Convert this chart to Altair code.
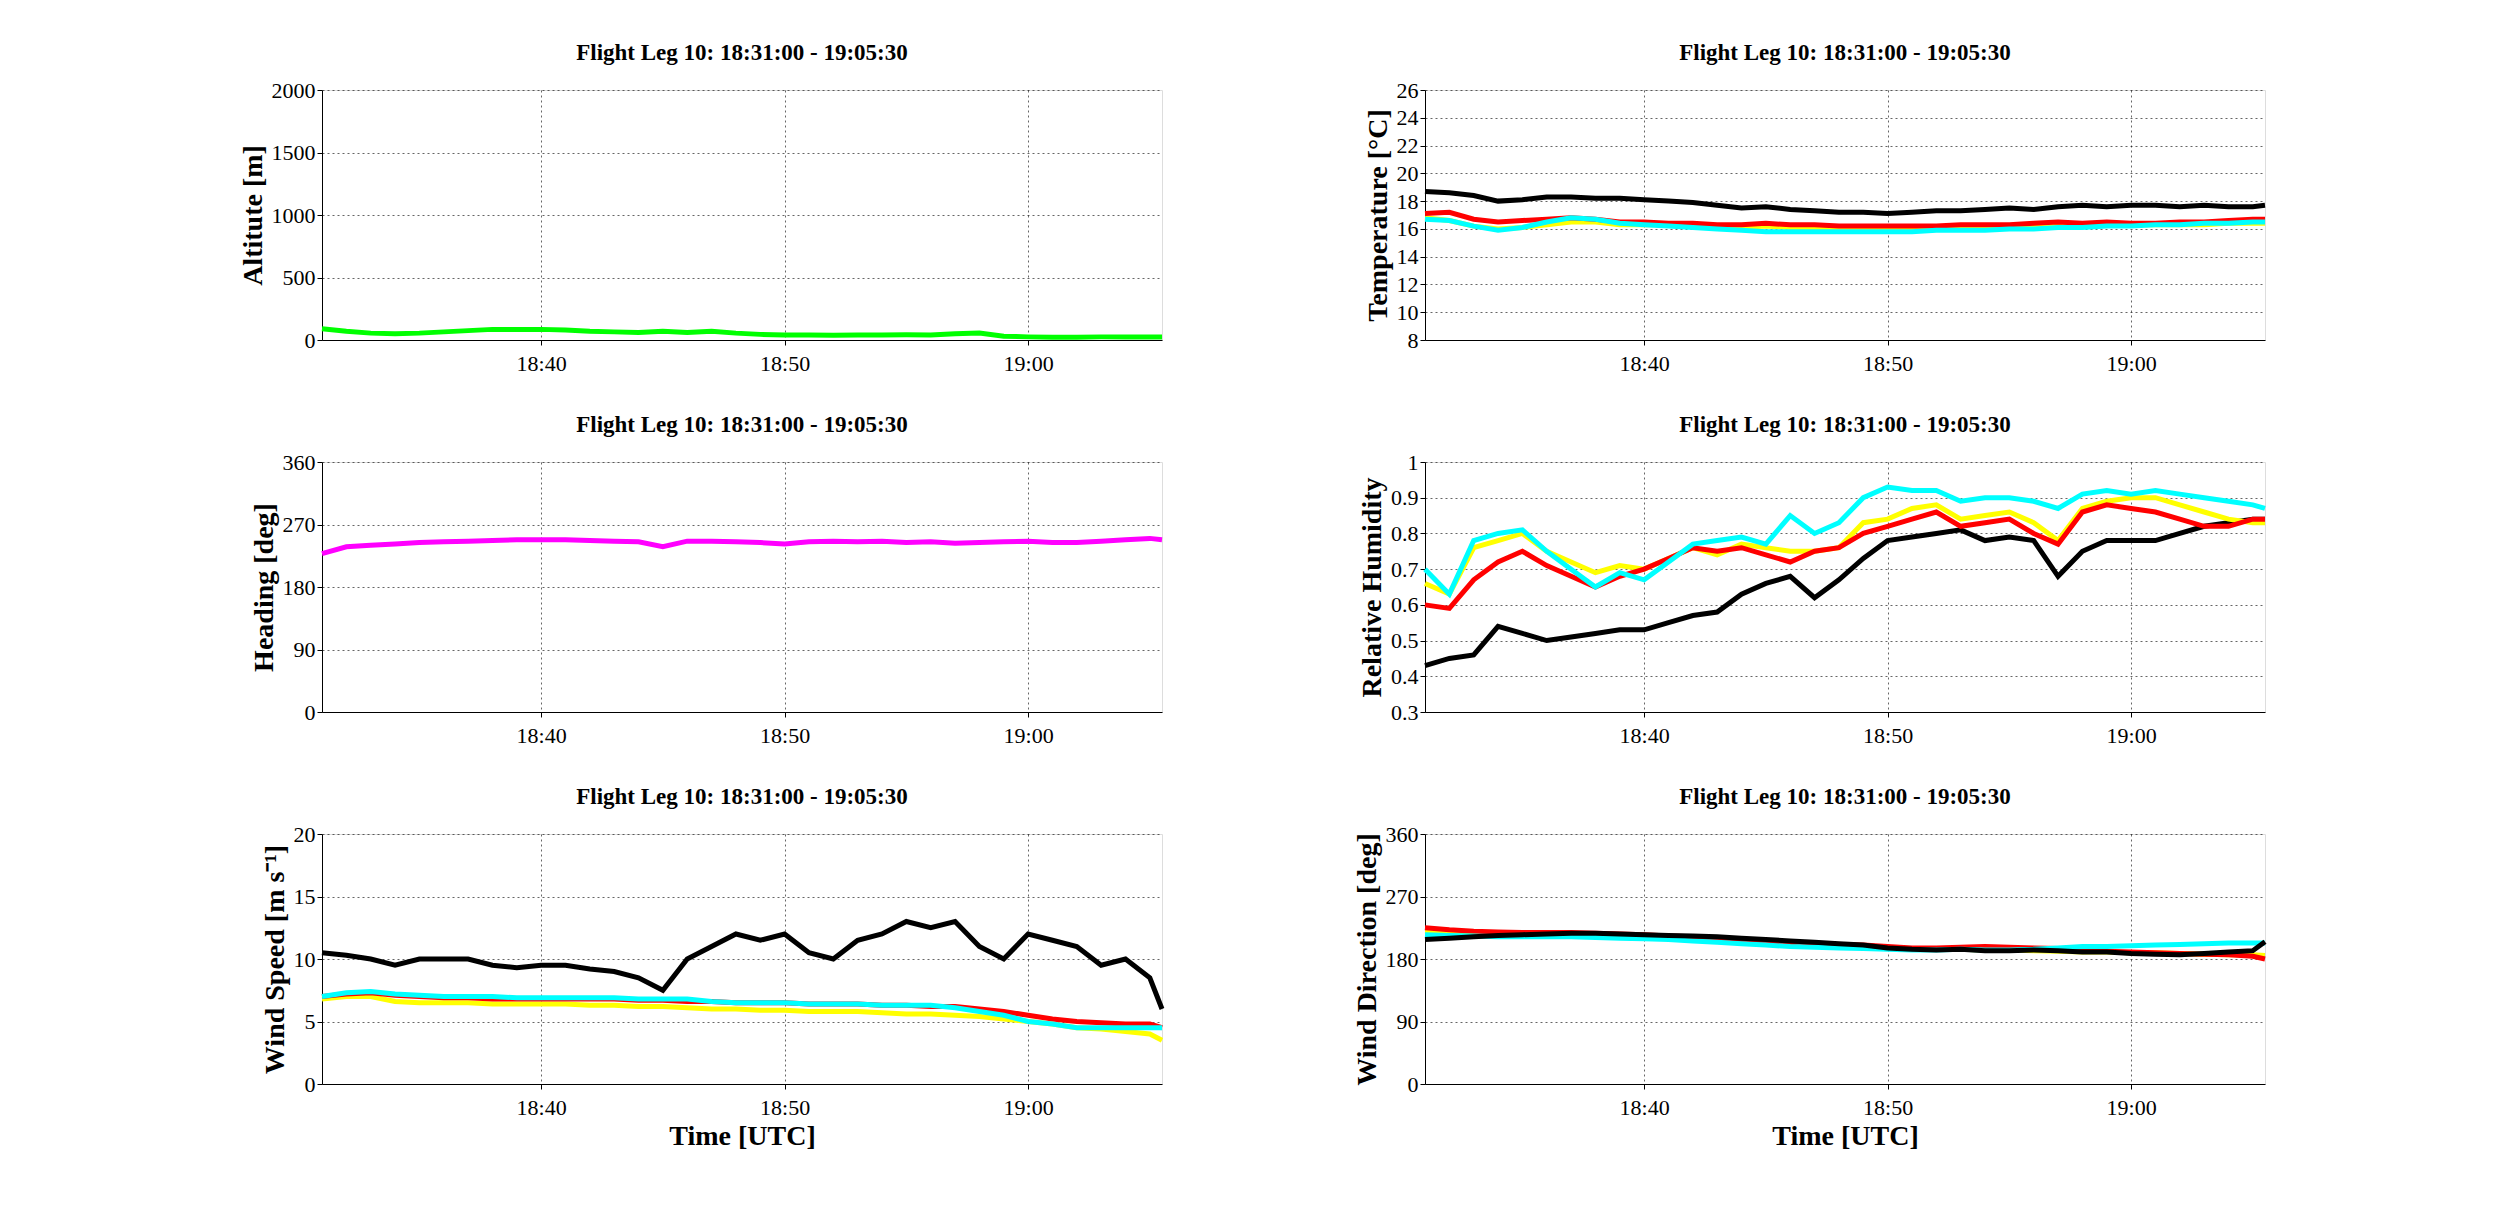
import altair as alt
import pandas as pd

# minutes after 18:00
minutes = list(range(31, 66)) + [65.5]

altitude = [90, 70, 55, 50, 55, 65, 75, 85, 85, 85, 80, 70, 65, 60, 70, 60, 70, 55, 45, 40,
            40, 38, 40, 40, 42, 40, 50, 55, 30, 25, 22, 22, 25, 25, 25, 25]
heading = [228, 238, 240, 242, 244, 245, 246, 247, 248, 248, 248, 247, 246, 245, 238, 246, 246, 245,
           244, 242, 245, 246, 245, 246, 244, 245, 243, 244, 245, 246, 244, 244, 246, 248, 250, 248]

temp_black = [18.7, 18.6, 18.4, 18.0, 18.1, 18.3, 18.3, 18.2, 18.2, 18.1, 18.0, 17.9, 17.7, 17.5, 17.6, 17.4,
              17.3, 17.2, 17.2, 17.1, 17.2, 17.3, 17.3, 17.4, 17.5, 17.4, 17.6, 17.7, 17.6, 17.7, 17.7, 17.6,
              17.7, 17.6, 17.6, 17.7]
temp_red = [17.1, 17.2, 16.7, 16.5, 16.6, 16.7, 16.8, 16.7, 16.5, 16.5, 16.4, 16.4, 16.3, 16.3, 16.4, 16.3,
            16.3, 16.2, 16.2, 16.2, 16.2, 16.2, 16.3, 16.3, 16.3, 16.4, 16.5, 16.4, 16.5, 16.4, 16.4, 16.5,
            16.5, 16.6, 16.7, 16.7]
temp_yellow = [16.8, 16.6, 16.2, 16.0, 16.1, 16.3, 16.5, 16.5, 16.3, 16.3, 16.3, 16.2, 16.2, 16.1, 16.2, 16.1,
               16.1, 16.0, 16.0, 16.0, 16.0, 16.1, 16.1, 16.1, 16.2, 16.2, 16.2, 16.2, 16.3, 16.3, 16.3, 16.3,
               16.3, 16.4, 16.4, 16.4]
temp_cyan = [16.7, 16.6, 16.2, 15.9, 16.1, 16.5, 16.8, 16.7, 16.4, 16.3, 16.2, 16.1, 16.0, 15.9, 15.8, 15.8,
             15.8, 15.8, 15.8, 15.8, 15.8, 15.9, 15.9, 15.9, 16.0, 16.0, 16.1, 16.1, 16.2, 16.2, 16.3, 16.3,
             16.4, 16.4, 16.5, 16.5]

rh_black = [0.43, 0.45, 0.46, 0.54, 0.52, 0.50, 0.51, 0.52, 0.53, 0.53, 0.55, 0.57, 0.58, 0.63, 0.66, 0.68,
            0.62, 0.67, 0.73, 0.78, 0.79, 0.80, 0.81, 0.78, 0.79, 0.78, 0.68, 0.75, 0.78, 0.78, 0.78, 0.80,
            0.82, 0.83, 0.84, 0.84]
rh_red = [0.60, 0.59, 0.67, 0.72, 0.75, 0.71, 0.68, 0.65, 0.68, 0.70, 0.73, 0.76, 0.75, 0.76, 0.74, 0.72,
          0.75, 0.76, 0.80, 0.82, 0.84, 0.86, 0.82, 0.83, 0.84, 0.80, 0.77, 0.86, 0.88, 0.87, 0.86, 0.84,
          0.82, 0.82, 0.84, 0.84]
rh_yellow = [0.66, 0.63, 0.76, 0.78, 0.80, 0.75, 0.72, 0.69, 0.71, 0.70, 0.73, 0.76, 0.74, 0.77, 0.76, 0.75,
             0.75, 0.76, 0.83, 0.84, 0.87, 0.88, 0.84, 0.85, 0.86, 0.83, 0.78, 0.87, 0.89, 0.90, 0.90, 0.88,
             0.86, 0.84, 0.83, 0.83]
rh_cyan = [0.70, 0.63, 0.78, 0.80, 0.81, 0.75, 0.70, 0.65, 0.69, 0.67, 0.72, 0.77, 0.78, 0.79, 0.77, 0.85,
           0.80, 0.83, 0.90, 0.93, 0.92, 0.92, 0.89, 0.90, 0.90, 0.89, 0.87, 0.91, 0.92, 0.91, 0.92, 0.91,
           0.90, 0.89, 0.88, 0.87]

ws_black = [10.5, 10.3, 10.0, 9.5, 10.0, 10.0, 10.0, 9.5, 9.3, 9.5, 9.5, 9.2, 9.0, 8.5, 7.5, 10.0,
            11.0, 12.0, 11.5, 12.0, 10.5, 10.0, 11.5, 12.0, 13.0, 12.5, 13.0, 11.0, 10.0, 12.0, 11.5, 11.0,
            9.5, 10.0, 8.5, 6.0]
ws_red = [7.0, 7.2, 7.3, 7.1, 7.0, 6.9, 6.9, 6.8, 6.8, 6.8, 6.8, 6.8, 6.8, 6.7, 6.7, 6.6,
          6.6, 6.5, 6.5, 6.5, 6.4, 6.4, 6.4, 6.3, 6.3, 6.2, 6.2, 6.0, 5.8, 5.5, 5.2, 5.0,
          4.9, 4.8, 4.8, 4.5]
ws_yellow = [6.8, 7.0, 7.0, 6.6, 6.5, 6.5, 6.5, 6.4, 6.4, 6.4, 6.4, 6.3, 6.3, 6.2, 6.2, 6.1,
             6.0, 6.0, 5.9, 5.9, 5.8, 5.8, 5.8, 5.7, 5.6, 5.6, 5.5, 5.4, 5.2, 5.0, 4.8, 4.5,
             4.4, 4.2, 4.0, 3.5]
ws_cyan = [7.0, 7.3, 7.4, 7.2, 7.1, 7.0, 7.0, 7.0, 6.9, 6.9, 6.9, 6.9, 6.9, 6.8, 6.8, 6.8,
           6.6, 6.5, 6.5, 6.5, 6.4, 6.4, 6.4, 6.3, 6.3, 6.3, 6.1, 5.8, 5.5, 5.0, 4.8, 4.5,
           4.5, 4.5, 4.5, 4.5]

wd_black = [208, 210, 212, 214, 215, 216, 217, 217, 216, 215, 214, 213, 212, 210, 208, 206,
            204, 202, 200, 196, 194, 193, 194, 192, 192, 193, 192, 190, 190, 188, 187, 186,
            188, 190, 192, 205]
wd_red = [225, 222, 220, 219, 218, 218, 218, 217, 216, 215, 213, 212, 210, 208, 206, 204,
          202, 201, 200, 198, 196, 196, 197, 198, 197, 196, 195, 193, 191, 190, 189, 188,
          187, 186, 184, 180]
wd_yellow = [220, 219, 218, 217, 216, 216, 216, 215, 214, 213, 212, 210, 208, 206, 205, 203,
             202, 200, 198, 196, 195, 194, 194, 193, 193, 192, 191, 190, 190, 189, 189, 188,
             187, 186, 186, 185]
wd_cyan = [215, 214, 213, 212, 212, 212, 212, 211, 210, 209, 208, 206, 204, 202, 200, 198,
           197, 196, 195, 194, 193, 193, 194, 193, 193, 194, 196, 198, 198, 199, 200, 201,
           202, 203, 203, 203]

FONT = "Liberation Serif"
W, H = 840, 250


def panel(ytitle, domain, ticks, series, xtitle=None, fmt="d"):
    rows = []
    for i, (vals, color) in enumerate(series):
        for m, v in zip(minutes, vals):
            rows.append({"minute": m, "value": v, "series": i, "color": color})
    df = pd.DataFrame(rows)
    return alt.Chart(df).mark_line(strokeWidth=5).encode(
        x=alt.X("minute:Q", scale=alt.Scale(domain=[31, 65.5], nice=False),
                axis=alt.Axis(
                    title=xtitle if xtitle else None,
                    values=[40, 50, 60],
                    labelExpr="datum.value < 60 ? '18:' + datum.value : '19:00'",
                    grid=True, gridDash=[2, 3], gridColor="#000000", gridOpacity=0.6,
                    labelFont=FONT, labelFontSize=22, labelPadding=8,
                    titleFont=FONT, titleFontSize=28, titleFontWeight="bold",
                    domainColor="black", tickColor="black")),
        y=alt.Y("value:Q", scale=alt.Scale(domain=domain, nice=False),
                axis=alt.Axis(title=ytitle, values=ticks, format=fmt, grid=True, gridDash=[2, 3],
                              gridColor="#000000", gridOpacity=0.6,
                              labelFont=FONT, labelFontSize=22,
                              titleFont=FONT, titleFontSize=28, titleFontWeight="bold",
                              domainColor="black", tickColor="black")),
        color=alt.Color("color:N", scale=None),
        detail="series:N",
        order="series:O",
    ).properties(
        width=W, height=H,
        title=alt.TitleParams("Flight Leg 10: 18:31:00 - 19:05:30", font=FONT,
                              fontSize=23, fontWeight="bold", offset=14),
    )


c_alt = panel("Altitute [m]", [0, 2000], [0, 500, 1000, 1500, 2000],
              [(altitude, "#00ff00")])
c_temp = panel("Temperature [°C]", [8, 26], list(range(8, 27, 2)),
               [(temp_black, "black"), (temp_yellow, "#ffff00"), (temp_red, "#ff0000"), (temp_cyan, "#00ffff")])
c_head = panel("Heading [deg]", [0, 360], [0, 90, 180, 270, 360],
               [(heading, "#ff00ff")])
c_rh = panel("Relative Humidity", [0.3, 1.0], [0.3, 0.4, 0.5, 0.6, 0.7, 0.8, 0.9, 1.0],
             [(rh_black, "black"), (rh_yellow, "#ffff00"), (rh_red, "#ff0000"), (rh_cyan, "#00ffff")],
             fmt="")
c_ws = panel("Wind Speed [m s⁻¹]", [0, 20], [0, 5, 10, 15, 20],
             [(ws_black, "black"), (ws_yellow, "#ffff00"), (ws_red, "#ff0000"), (ws_cyan, "#00ffff")],
             xtitle="Time [UTC]")
c_wd = panel("Wind Direction [deg]", [0, 360], [0, 90, 180, 270, 360],
             [(wd_yellow, "#ffff00"), (wd_red, "#ff0000"), (wd_cyan, "#00ffff"), (wd_black, "black")],
             xtitle="Time [UTC]")

chart = alt.concat(
    c_alt, c_temp, c_head, c_rh, c_ws, c_wd, columns=2, spacing={"column": 179, "row": 38},
).properties(padding={"left": 230, "top": 33, "right": 10, "bottom": 10}).configure_view(
    stroke="black", strokeWidth=1.5
).configure(background="white")

chart.save("out.html", embed_options={"renderer": "svg", "actions": False})
